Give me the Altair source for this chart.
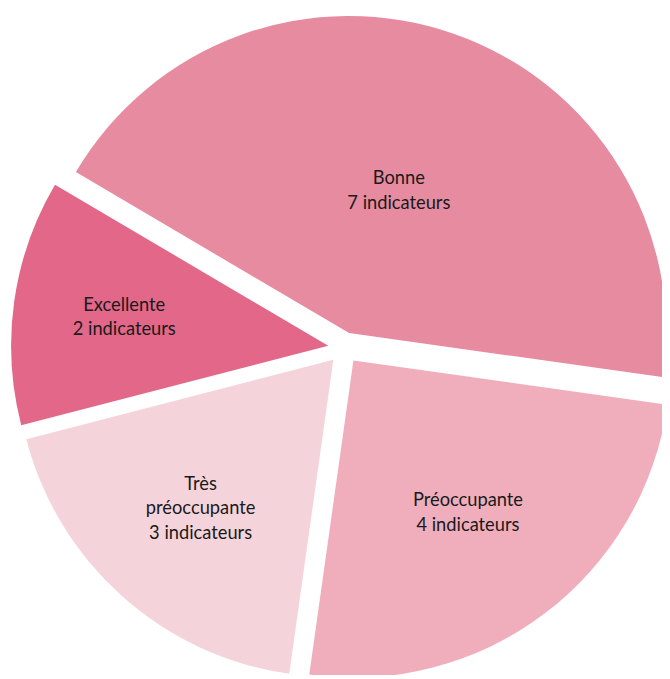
import altair as alt
import pandas as pd

# ---- data ----
categories = ["Excellente", "Bonne", "Préoccupante", "Très préoccupante"]
counts = [2, 7, 4, 3]
colors = ["#E26789", "#E78BA1", "#F0AEBC", "#F4D4DA"]

# ---- layout / style ----
W, H = 662, 671
CX, CY = 340, 340          # pie centre inside the view
R = 321                    # pie radius
EXPLODE = 16               # explosion distance of every slice
START = -104.5 * 3.141592653589793 / 180  # angle of first slice start (radians)
FONT_SIZE = 18.5
LINE_H = 24.5

df = pd.DataFrame({
    "cat": categories,
    "n": counts,
    "order": list(range(len(categories))),
    "label": [c.replace(" ", "\n") + f"\n{n} indicateurs" for c, n in zip(categories, counts)],
})

base = (
    alt.Chart(df)
    .transform_joinaggregate(total="sum(n)")
    .transform_window(cum="sum(n)", sort=[alt.SortField("order")], frame=[None, 0])
    .transform_calculate(
        t0=f"{START} + 2*PI*(datum.cum - datum.n)/datum.total",
        t1=f"{START} + 2*PI*datum.cum/datum.total",
        nlines="length(split(datum.label, '\\n'))",
    )
    .transform_calculate(
        mid="(datum.t0 + datum.t1)/2",
        half="(datum.t1 - datum.t0)/2",
    )
    .transform_calculate(
        cx=f"{CX} + {EXPLODE}*sin(datum.mid)",
        cy=f"{CY} - {EXPLODE}*cos(datum.mid)",
        lr=f"2*{R}*sin(datum.half)/(3*datum.half)",
    )
    .transform_calculate(
        lx="datum.cx + datum.lr*sin(datum.mid)",
        ly=f"datum.cy - datum.lr*cos(datum.mid) - (datum.nlines - 1)*{LINE_H}/2",
    )
)

arcs = base.mark_arc(radius=R, clip=True).encode(
    theta=alt.Theta("t0:Q", scale=None, stack=None),
    theta2="t1:Q",
    x=alt.X("cx:Q", scale=None, axis=None),
    y=alt.Y("cy:Q", scale=None, axis=None),
    color=alt.Color("cat:N", scale=alt.Scale(domain=categories, range=colors), legend=None),
)

text = base.mark_text(
    font="Lato", fontSize=FONT_SIZE, lineBreak="\n", lineHeight=LINE_H, color="#1a1a1a"
).encode(
    x=alt.X("lx:Q", scale=None, axis=None),
    y=alt.Y("ly:Q", scale=None, axis=None),
    text="label:N",
)

chart = (
    alt.layer(arcs, text)
    .properties(width=W, height=H, padding=0, autosize="none")
    .configure_view(stroke=None)
)

chart.save("out.html", embed_options={"renderer": "svg", "actions": False})
